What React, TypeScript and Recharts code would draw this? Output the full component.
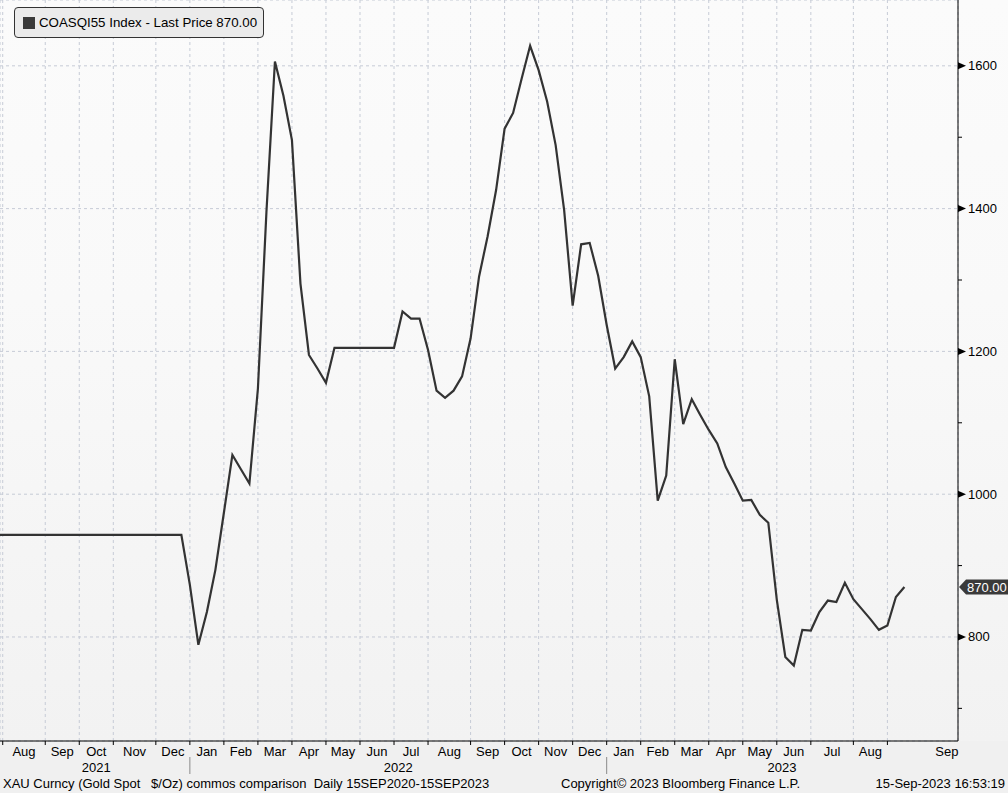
import React from "react";
import {
  LineChart,
  Line,
  XAxis,
  YAxis,
  CartesianGrid,
  ReferenceLine,
} from "recharts";

const FONT = '"Liberation Sans", Arial, sans-serif';

// weekly points, week 0 = first week of Aug 2021
const weekIndex: number[] = [
  -1, 0, 1, 2, 3, 4, 5, 6, 7, 8, 9, 10, 11, 12, 13, 14, 15, 16, 17, 18, 19, 20,
  21, 22, 23, 24, 25, 26, 27, 28, 29, 30, 31, 32, 33, 34, 35, 36, 37, 38, 39,
  40, 41, 42, 43, 44, 45, 46, 47, 48, 49, 50, 51, 52, 53, 54, 55, 56, 57, 58,
  59, 60, 61, 62, 63, 64, 65, 66, 67, 68, 69, 70, 71, 72, 73, 74, 75, 76, 77,
  78, 79, 80, 81, 82, 83, 84, 85, 86, 87, 88, 89, 90, 91, 92, 93, 94, 95, 96,
  97, 98, 99, 100, 101, 102, 103, 104, 105, 106,
];

const lastPrice: number[] = [
  943, 943, 943, 943, 943, 943, 943, 943, 943, 943, 943, 943, 943, 943, 943,
  943, 943, 943, 943, 943, 943, 943, 943, 873, 789, 835, 894, 974, 1055, 1035,
  1015, 1148, 1395, 1606, 1558, 1496, 1295, 1195, 1176, 1156, 1205, 1205, 1205,
  1205, 1205, 1205, 1205, 1205, 1256, 1246, 1246, 1202, 1145, 1135, 1145, 1165,
  1218, 1305, 1361, 1426, 1512, 1534, 1582, 1628, 1594, 1550, 1489, 1398, 1264,
  1350, 1352, 1306, 1237, 1176, 1192, 1214, 1192, 1137, 991, 1026, 1189, 1098,
  1133, 1111, 1090, 1071, 1038, 1015, 991, 992, 971, 960, 852, 772, 760, 810,
  809, 835, 851, 849, 876, 853, 839, 825, 810, 816, 856, 870,
];

const monthNames: string[] = [
  "Aug", "Sep", "Oct", "Nov", "Dec",
  "Jan", "Feb", "Mar", "Apr", "May", "Jun", "Jul", "Aug", "Sep", "Oct", "Nov", "Dec",
  "Jan", "Feb", "Mar", "Apr", "May", "Jun", "Jul", "Aug", "Sep",
];
const monthStart: number[] = [
  0, 5, 9, 13, 18, 22, 26, 30, 34, 38, 42, 46, 50, 55, 59, 63, 67, 71, 75, 79,
  83, 87, 91, 95, 100, 104,
];

const years: { label: string; at: number }[] = [
  { label: "2021", at: 11 },
  { label: "2022", at: 46.5 },
  { label: "2023", at: 91.6 },
];
const yearBreaks: number[] = [22, 71];

const majorTicks: number[] = [800, 1000, 1200, 1400, 1600];
const minorTicks: number[] = [700, 800, 900, 1000, 1100, 1200, 1300, 1400, 1500, 1600];

const X_DOMAIN: [number, number] = [-0.32, 112.3];
const Y_DOMAIN: [number, number] = [654.3, 1692.2];

const data = weekIndex.map((w, k) => ({ w, price: lastPrice[k] }));

const monthMid = monthStart.map((s, k) =>
  k < monthStart.length - 1 ? (s + monthStart[k + 1]) / 2 : X_DOMAIN[1] - 1.3
);
const monthLabelAt = new Map(monthMid.map((m, k) => [m, monthNames[k]]));
const yearLabelAt = new Map(years.map((y) => [y.at, y.label]));

const MonthTick = (props: any) => {
  const { x, y, payload } = props;
  return (
    <text x={x} y={y} dy={11} textAnchor="middle" fontSize={13} fontFamily={FONT} fill="#000">
      {monthLabelAt.get(payload.value)}
    </text>
  );
};

const YearTick = (props: any) => {
  const { x, y, payload } = props;
  const label = yearLabelAt.get(payload.value);
  if (!label) {
    return <line x1={x} x2={x} y1={y - 4} y2={y + 13} stroke="#8a8a8a" strokeWidth={1} />;
  }
  return (
    <text x={x} y={y} dy={11} textAnchor="middle" fontSize={13} fontFamily={FONT} fill="#000">
      {label}
    </text>
  );
};

const PriceTick = (props: any) => {
  const { x, y, payload } = props;
  if (payload.value % 200 !== 0) {
    return <line x1={x} x2={x + 4} y1={y} y2={y} stroke="#000" strokeWidth={1} />;
  }
  return (
    <g>
      <polygon points={`${x},${y - 3.5} ${x + 8},${y} ${x},${y + 3.5}`} fill="#000" />
      <text x={x + 10} y={y} dy={4.5} fontSize={13} fontFamily={FONT} fill="#000">
        {payload.value}
      </text>
    </g>
  );
};

const PriceTag = (props: any) => {
  const { viewBox } = props;
  const x = viewBox.x + viewBox.width + 1;
  const y = viewBox.y;
  return (
    <g>
      <polygon
        points={`${x},${y} ${x + 7},${y - 7.5} ${x + 50},${y - 7.5} ${x + 50},${y + 7.5} ${x + 7},${y + 7.5}`}
        fill="#3a3a3a"
      />
      <text x={x + 8} y={y} dy={4.5} fontSize={13} fontFamily={FONT} fill="#fff">
        {lastPrice[lastPrice.length - 1].toFixed(2)}
      </text>
    </g>
  );
};

export default function App() {
  return (
    <div
      style={{
        position: "absolute",
        left: 0,
        top: 0,
        width: 1008,
        height: 793,
        background:
          "linear-gradient(to bottom, #fbfbfb 0px, #f9f9f9 300px, #f2f2f2 741px, #f0f0f0 741px, #f0f0f0 793px)",
        fontFamily: FONT,
      }}
    >
      <LineChart width={1008} height={793} data={data} margin={{ top: 0, right: 0, bottom: 12, left: 0 }}>
        <XAxis
          xAxisId="g"
          dataKey="w"
          type="number"
          domain={X_DOMAIN}
          allowDataOverflow
          ticks={monthStart}
          interval={0}
          height={4}
          tickSize={4}
          axisLine={{ stroke: "#000" }}
          tickLine={{ stroke: "#000" }}
          tick={() => <g />}
        />
        <XAxis
          xAxisId="m"
          dataKey="w"
          type="number"
          domain={X_DOMAIN}
          allowDataOverflow
          ticks={monthMid}
          interval={0}
          height={16}
          tickSize={0}
          tickMargin={0}
          axisLine={false}
          tickLine={false}
          tick={<MonthTick />}
        />
        <XAxis
          xAxisId="y"
          dataKey="w"
          type="number"
          domain={X_DOMAIN}
          allowDataOverflow
          ticks={[...years.map((y) => y.at), ...yearBreaks]}
          interval={0}
          height={20}
          tickSize={0}
          tickMargin={0}
          axisLine={false}
          tickLine={false}
          tick={<YearTick />}
        />
        <YAxis
          yAxisId="v"
          orientation="right"
          domain={Y_DOMAIN}
          allowDataOverflow
          ticks={minorTicks}
          interval={0}
          width={50}
          tickSize={0}
          tickMargin={0}
          axisLine={{ stroke: "#000" }}
          tickLine={false}
          tick={<PriceTick />}
        />
        <YAxis yAxisId="h" hide domain={Y_DOMAIN} allowDataOverflow ticks={majorTicks} />
        <CartesianGrid
          xAxisId="g"
          yAxisId="h"
          stroke="#c6cbd6"
          strokeDasharray="3 3"
          fill="none"
        />
        <Line
          xAxisId="g"
          yAxisId="v"
          dataKey="price"
          type="linear"
          stroke="#333333"
          strokeWidth={2.2}
          dot={false}
          isAnimationActive={false}
        />
        <ReferenceLine
          xAxisId="g"
          yAxisId="v"
          y={lastPrice[lastPrice.length - 1]}
          stroke="none"
          label={<PriceTag />}
        />
      </LineChart>

      <div
        style={{
          position: "absolute",
          left: 14,
          top: 7,
          width: 250,
          height: 31,
          boxSizing: "border-box",
          border: "1px solid #333",
          borderRadius: 4,
          background: "#ebebeb",
          display: "flex",
          alignItems: "center",
          paddingLeft: 8,
          fontSize: 13.3,
          color: "#000",
          whiteSpace: "nowrap",
        }}
      >
        <span style={{ width: 12, height: 12, background: "#3a3a3a", marginRight: 4, display: "inline-block" }} />
        COASQI55 Index - Last Price 870.00
      </div>

      <div style={{ position: "absolute", left: 3, top: 776, fontSize: 13, color: "#000", whiteSpace: "pre" }}>
        {"XAU Curncy (Gold Spot   $/Oz) commos comparison  Daily 15SEP2020-15SEP2023"}
      </div>
      <div style={{ position: "absolute", left: 561, top: 776, fontSize: 13, color: "#000", whiteSpace: "pre" }}>
        {"Copyright\u00a9 2023 Bloomberg Finance L.P."}
      </div>
      <div style={{ position: "absolute", right: 3, top: 776, fontSize: 13, color: "#000", whiteSpace: "pre" }}>
        {"15-Sep-2023 16:53:19"}
      </div>
    </div>
  );
}
